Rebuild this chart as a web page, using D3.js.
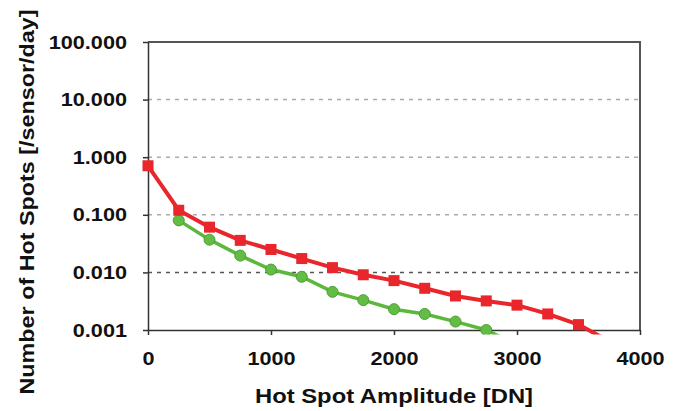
<!DOCTYPE html>
<html>
<head>
<meta charset="utf-8">
<script src="https://cdn.jsdelivr.net/npm/d3@7"></script>
<style>
  body { margin: 0; background: #fff; }
  svg { display: block; }
  text { font-family: "Liberation Sans", Arial, sans-serif; font-weight: bold; fill: #111; }
</style>
</head>
<body>
<svg id="chart" width="681" height="411"></svg>
<script>
// ---- data ----
const redX   = [0, 250, 500, 750, 1000, 1250, 1500, 1750, 2000, 2250, 2500, 2750, 3000, 3250, 3500, 3750];
const redY   = [0.71, 0.12, 0.061, 0.036, 0.025, 0.0174, 0.0121, 0.0091, 0.0072, 0.0053, 0.0039, 0.0032, 0.0027, 0.0019, 0.00124, 0.00064];
const greenX = [250, 500, 750, 1000, 1250, 1500, 1750, 2000, 2250, 2500, 2750, 3000];
const greenY = [0.08, 0.037, 0.0196, 0.0112, 0.0084, 0.0046, 0.0033, 0.0023, 0.0019, 0.0014, 0.001, 0.00055];
const yTicks = [0.001, 0.01, 0.1, 1, 10, 100];
const xTicks = [0, 1000, 2000, 3000, 4000];
const xTitle = "Hot Spot Amplitude [DN]";
const yTitle = "Number of Hot Spots [/sensor/day]";

// ---- layout ----
const W = 681, H = 411;
const m = { left: 148, right: 41, top: 42, bottom: 81 };
const svg = d3.select("#chart");
const x = d3.scaleLinear().domain([0, 4000]).range([m.left, W - m.right]);
const y = d3.scaleLog().domain([0.001, 100]).range([H - m.bottom, m.top]);
const stretch = 1.14;

// gridlines
svg.append("g").selectAll("line")
  .data(yTicks.filter(d => d > 0.001 && d < 100))
  .join("line")
  .attr("x1", x(0)).attr("x2", x(4000))
  .attr("y1", d => y(d)).attr("y2", d => y(d))
  .attr("stroke", d => d === 0.01 ? "#555" : "#aaa")
  .attr("stroke-width", 1.5)
  .attr("stroke-dasharray", "4,5");

// frame top & right
svg.append("path")
  .attr("d", `M${x(0)},${y(100)}H${x(4000)}V${y(0.001)}`)
  .attr("fill", "none").attr("stroke", "#555").attr("stroke-width", 2);

// axes
const yAxis = svg.append("g")
  .attr("transform", `translate(${x(0)},0)`)
  .call(d3.axisLeft(y).tickValues(yTicks).tickFormat(d3.format(".3f")).tickSizeInner(5).tickSizeOuter(0).tickPadding(16));
const xAxis = svg.append("g")
  .attr("transform", `translate(0,${y(0.001)})`)
  .call(d3.axisBottom(x).tickValues(xTicks).tickFormat(d3.format("d")).tickSizeInner(5).tickSizeOuter(0).tickPadding(17));
[yAxis, xAxis].forEach(g => {
  g.select(".domain").attr("stroke", "#333").attr("stroke-width", 1.5);
  g.selectAll(".tick line").attr("stroke", "#333").attr("stroke-width", 1.5);
  g.selectAll(".tick text")
    .attr("font-size", 19)
    .attr("font-family", "Liberation Sans, Arial, sans-serif")
    .attr("font-weight", "bold")
    .attr("fill", "#111")
    .each(function () {
      const L = this.getComputedTextLength();
      d3.select(this).attr("textLength", L * stretch).attr("lengthAdjust", "spacingAndGlyphs");
    });
});

// clip (series run slightly past bottom axis, then are cut)
svg.append("clipPath").attr("id", "clip")
  .append("rect").attr("x", x(0) - 8).attr("y", m.top - 10)
  .attr("width", x(4000) - x(0) + 16).attr("height", y(0.001) - m.top + 14.5);

const plot = svg.append("g").attr("clip-path", "url(#clip)");
const line = d3.line().x(d => x(d[0])).y(d => y(d[1]));

const greenData = greenX.map((v, i) => [v, greenY[i]]);
const redData = redX.map((v, i) => [v, redY[i]]);

plot.append("path").datum(greenData).attr("d", line)
  .attr("fill", "none").attr("stroke", "#5cb83c").attr("stroke-width", 3.5);
plot.append("g").selectAll("circle").data(greenData).join("circle")
  .attr("cx", d => x(d[0])).attr("cy", d => y(d[1])).attr("r", 5.5)
  .attr("fill", "#63bd45").attr("stroke", "#4e9e33").attr("stroke-width", 1);

plot.append("path").datum(redData).attr("d", line)
  .attr("fill", "none").attr("stroke", "#e8262b").attr("stroke-width", 4);
plot.append("g").selectAll("rect").data(redData).join("rect")
  .attr("x", d => x(d[0]) - 5.5).attr("y", d => y(d[1]) - 5.5)
  .attr("width", 11).attr("height", 11)
  .attr("fill", "#e8262b");

// titles
svg.append("text")
  .attr("x", (x(0) + x(4000)) / 2 - 0).attr("y", 403)
  .attr("text-anchor", "middle").attr("font-size", 21)
  .attr("textLength", 278).attr("lengthAdjust", "spacingAndGlyphs")
  .text(xTitle);
svg.append("text")
  .attr("transform", `translate(34,202) rotate(-90)`)
  .attr("text-anchor", "middle").attr("font-size", 21)
  .attr("textLength", 385).attr("lengthAdjust", "spacingAndGlyphs")
  .text(yTitle);
</script>
</body>
</html>
